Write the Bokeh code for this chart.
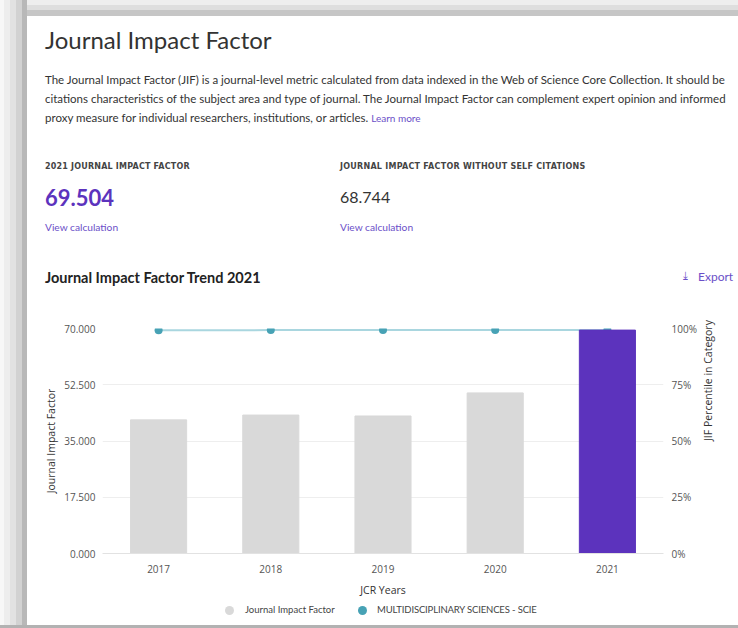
import math
from bokeh.plotting import figure
from bokeh.layouts import column
from bokeh.models import (FactorRange, Range1d, LinearAxis, FixedTicker, NumeralTickFormatter,
                          PrintfTickFormatter, ColumnDataSource, Div)
from bokeh.embed import file_html
from bokeh.resources import INLINE

# ---- data ----
years = ["2017", "2018", "2019", "2020", "2021"]
jif = [41.577, 43.070, 42.778, 49.962, 69.504]
percentile = [99.22, 99.28, 99.30, 99.31, 99.32]
left_ticks = [0, 17.5, 35, 52.5, 70]
right_ticks = [0, 25, 50, 75, 100]
bar_colors = ["#d9d9d9", "#d9d9d9", "#d9d9d9", "#d9d9d9", "#5c33bd"]
series_names = ["Journal Impact Factor", "MULTIDISCIPLINARY SCIENCES - SCIE"]

jif_2021 = "69.504"
jif_no_self = "68.744"

PURPLE = "#5c33bd"
LINK = "#6b4fc8"
TEAL = "#47a2b5"
GRAY = "#d9d9d9"

LEFT_SHADOW = ("linear-gradient(to right, #f7f7f7 0px, #f7f7f7 4px, #ededed 4px, #ededed 10px, "
               "#e2e2e2 10px, #e2e2e2 16px, #d2d2d2 16px, #d2d2d2 22px, #b8b8b8 22px, #b8b8b8 27px, "
               "transparent 27px)")
TOP_SHADOW = ("linear-gradient(to bottom, #eeeeee 0px, #eeeeee 5px, #dedede 5px, #dedede 10px, "
              "#c6c6c6 10px, #c6c6c6 16px, transparent 16px)")


def span(text, x, y, size, color="#333333", font="Lato", weight="normal", spacing=0):
    lh = round(size * 1.3)
    return (f'<div style="position:absolute; left:{x}px; top:{y - lh / 2}px; line-height:{lh}px; '
            f'font-family:\'{font}\'; font-size:{size}px; color:{color}; font-weight:{weight}; '
            f'letter-spacing:{spacing}px; white-space:nowrap;">{text}</div>')


def dot(cx, cy, d, color):
    return (f'<div style="position:absolute; left:{cx - d / 2}px; top:{cy - d / 2}px; width:{d}px; '
            f'height:{d}px; border-radius:50%; background:{color};"></div>')


# ---- header text block (page y 0..300) ----
parts = [
    span("Journal Impact Factor", 45, 39, 24, color="#333333"),
    span("The Journal Impact Factor (JIF) is a journal-level metric calculated from data indexed in the Web of Science Core Collection. It should be", 45, 79, 11.5),
    span("citations characteristics of the subject area and type of journal. The Journal Impact Factor can complement expert opinion and informed", 45, 98, 11.5),
    span("proxy measure for individual researchers, institutions, or articles. "
         f'<span style="color:{LINK}; font-size:10px;">Learn more</span>', 45, 117, 11.5),
    span("2021 JOURNAL IMPACT FACTOR", 45, 167, 8, color="#444444", font="DejaVu Sans", weight="bold", spacing=0.2),
    span("JOURNAL IMPACT FACTOR WITHOUT SELF CITATIONS", 340, 167, 8, color="#444444", font="DejaVu Sans", weight="bold", spacing=0.25),
    span(jif_2021, 45, 197, 22, color=PURPLE, weight="bold"),
    span(jif_no_self, 340, 196, 16, color="#333333"),
    span("View calculation", 45, 227, 10.2, color=LINK),
    span("View calculation", 340, 227, 10.2, color=LINK),
    span("Journal Impact Factor Trend 2021", 45, 277, 14.5, color="#222222", weight="bold"),
    span("\u2913", 683, 276, 11, color=LINK, font="DejaVu Sans"),
    span("Export", 698, 277, 12, color=LINK),
]
header = Div(text=('<div style="position:relative; width:738px; height:300px; overflow:hidden; '
                   f'background:{LEFT_SHADOW}, {TOP_SHADOW}, white;">' + "".join(parts) + "</div>"),
             width=738, height=300, margin=0)

# ---- chart (page y 300..605) ----
p = figure(width=738, height=305, x_range=FactorRange(factors=years, range_padding=0),
           y_range=Range1d(0, 70), output_backend="svg", toolbar_location=None,
           min_border_left=102, min_border_right=75, min_border_top=28, min_border_bottom=52)
p.extra_y_ranges = {"pct": Range1d(0, 100)}
p.outline_line_color = None
p.background_fill_color = "white"
p.border_fill_color = None
p.styles = {"background": f"{LEFT_SHADOW}, white"}

# percentile line first (drawn under bars)
p.line(x=years, y=percentile, y_range_name="pct", line_color="#a9d6df", line_width=2)
p.scatter(x=years, y=percentile, y_range_name="pct", size=8, fill_color=TEAL, line_color=None)

src = ColumnDataSource(dict(year=years, jif=jif, color=bar_colors))
p.vbar(x="year", top="jif", width=0.5, source=src, fill_color="color", line_color="color")

p.yaxis.ticker = FixedTicker(ticks=left_ticks)
p.yaxis.formatter = NumeralTickFormatter(format="0.000")
p.yaxis.axis_label = "Journal Impact Factor"
p.xaxis.axis_label = "JCR Years"

# right axis: tick labels
right = LinearAxis(y_range_name="pct", ticker=FixedTicker(ticks=right_ticks),
                   formatter=PrintfTickFormatter(format="%d%%"))
p.add_layout(right, "right")
# right axis title (reads bottom-to-top, centred on the frame)
right_title = LinearAxis(y_range_name="pct", ticker=FixedTicker(ticks=[]), bounds=(0, 44.4),
                         axis_label="JIF Percentile in Category")
p.add_layout(right_title, "right")

for ax in [p.xaxis[0], p.yaxis[0], right, right_title]:
    ax.major_tick_line_color = None
    ax.minor_tick_line_color = None
    ax.major_tick_out = 0
    ax.major_tick_in = 0
    ax.major_label_text_font = "Open Sans"
    ax.major_label_text_font_size = "10px"
    ax.major_label_text_color = "#555555"
    ax.axis_label_text_font = "Open Sans"
    ax.axis_label_text_font_size = "10.5px"
    ax.axis_label_text_font_style = "normal"
    ax.axis_label_text_color = "#333333"
    ax.axis_line_color = None

p.yaxis[0].major_label_standoff = 7
p.yaxis[0].axis_label_standoff = 3
right.major_label_standoff = 8
right_title.major_label_standoff = 0
right_title.axis_label_standoff = 8
right_title.axis_label_orientation = math.pi / 2
p.xaxis[0].axis_line_color = "#e2e2e2"
p.xaxis[0].major_label_standoff = 11
p.xaxis[0].axis_label_standoff = 7

p.xgrid.grid_line_color = None
p.ygrid.ticker = FixedTicker(ticks=left_ticks)
p.ygrid.grid_line_color = "#eeeeee"

# ---- legend row (page y 605..628) ----
BOTTOM_SHADOW = "linear-gradient(to bottom, transparent 20px, #b2b2b2 20px)"
leg = [
    dot(229, 5, 9, GRAY),
    span(series_names[0], 245, 5, 9.5, color="#444444"),
    dot(362, 5, 9, TEAL),
    span(series_names[1], 377, 5, 9.5, color="#444444", spacing=-0.15),
]
footer = Div(text=('<div style="position:relative; width:738px; height:23px; overflow:hidden; '
                   f'background:{BOTTOM_SHADOW}, {LEFT_SHADOW}, white;">' + "".join(leg) + "</div>"),
             width=738, height=23, margin=0)

layout = column(header, p, footer, spacing=0)
open("out.html", "w").write(file_html(layout, INLINE))
